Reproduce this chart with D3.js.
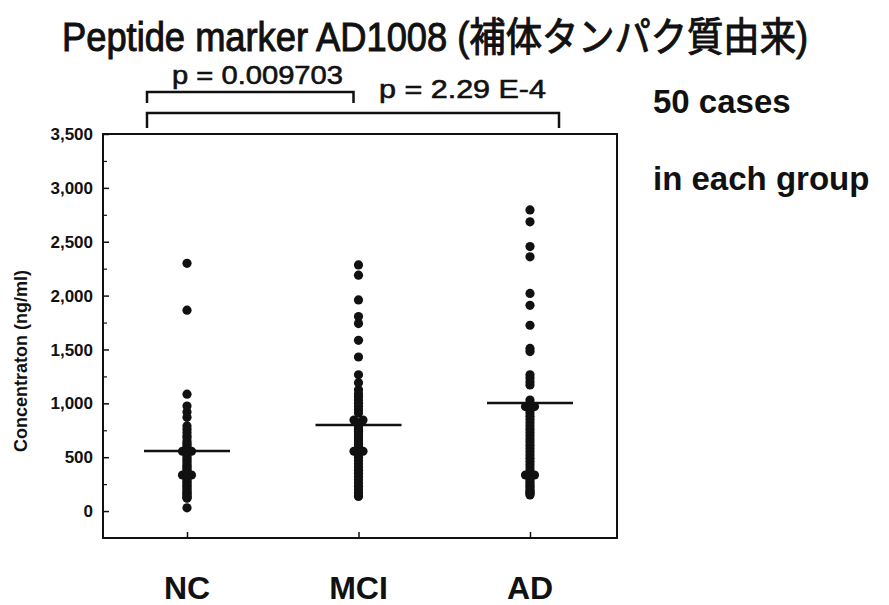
<!DOCTYPE html>
<html>
<head>
<meta charset="utf-8">
<script src="https://cdn.jsdelivr.net/npm/d3@7"></script>
<style>
  body { margin: 0; background: #fff; }
  text { font-family: "Liberation Sans", Arial, "Noto Sans CJK JP", sans-serif; fill: #111; }
</style>
</head>
<body>
<div id="chart"></div>
<script>
/***********************************************/
//                 CHART DATA                  //
/***********************************************/

const groups = ["NC", "MCI", "AD"];

const ncValues = [2300, 1865,
  1085, 975, 920, 870,
  790, 760, 730, 700, 680, 650, 630, 610, 590, 570,
  555, 555, 545, 530, 510, 490, 470, 450, 430, 415, 400, 385,
  370, 350, 335, 335, 330, 320, 305, 290, 275, 260, 245, 230,
  215, 200, 185, 170, 160, 150, 135, 125, 120, 30];

const mciValues = [2285, 2190, 1960, 1805, 1740, 1585, 1430, 1265, 1190,
  1125, 1090, 1060, 1030, 1000, 970, 940, 910,
  845, 845, 820, 800, 780, 760, 740, 720, 700, 680, 660, 640, 620, 600, 580,
  555, 555, 540, 520, 500, 470, 440, 410, 380, 350, 320, 290, 260, 230, 200, 170, 150, 135];

const adValues = [2795, 2685, 2455, 2360, 2020, 1910, 1725, 1510, 1480,
  1265, 1235, 1200, 1170, 1030, 1000,
  970, 970, 940, 910, 880, 850, 820, 790, 760, 730, 700, 670, 640, 610, 580, 550, 520, 490, 460, 430, 400, 370,
  335, 335, 320, 300, 280, 260, 240, 220, 200, 185, 170, 160, 150];

// horizontal bar in each group
const groupMeans = [557, 798, 1002];

const yTicks = [0, 500, 1000, 1500, 2000, 2500, 3000, 3500];
const yMinorTicks = [250, 750, 1250, 1750, 2250, 2750, 3250];

const pLabels = ["p = 0.009703", "p = 2.29 E-4"];

const titleText = "Peptide marker AD1008 (補体タンパク質由来)";
const yLabel = "Concentraton (ng/ml)";
const noteLines = ["50 cases", "in each group"];

/***********************************************/
//                 LAYOUT                      //
/***********************************************/

const width = 889,
    height = 605;

const frame = {left: 103, right: 617, top: 134, bottom: 538};

const svg = d3.select("#chart")
  .append("svg")
    .attr("width", width)
    .attr("height", height);

const x = d3.scalePoint()
    .domain(groups)
    .range([187, 530]);

const y = d3.scaleLinear()
    .domain([-250, 3500])
    .range([frame.bottom, frame.top]);

// frame
svg.append("rect")
    .attr("x", frame.left)
    .attr("y", frame.top)
    .attr("width", frame.right - frame.left)
    .attr("height", frame.bottom - frame.top)
    .attr("fill", "none")
    .attr("stroke", "#111")
    .attr("stroke-width", 2);

// y axis (ticks inside the frame)
const yAxisG = svg.append("g")
    .attr("transform", `translate(${frame.left},0)`)
    .call(d3.axisRight(y).tickValues(yTicks).tickSize(6).tickFormat(""));
yAxisG.select(".domain").remove();
yAxisG.selectAll("line").attr("stroke", "#111").attr("stroke-width", 1.5);

const yMinor = svg.append("g")
    .attr("transform", `translate(${frame.left},0)`)
    .call(d3.axisRight(y).tickValues(yMinorTicks).tickSize(4).tickFormat(""));
yMinor.select(".domain").remove();
yMinor.selectAll("line").attr("stroke", "#111").attr("stroke-width", 1.2);

svg.selectAll(".ylab")
  .data(yTicks)
  .join("text")
    .attr("class", "ylab")
    .attr("x", frame.left - 10)
    .attr("y", d => y(d))
    .attr("dy", "0.36em")
    .attr("text-anchor", "end")
    .style("font-size", "17px")
    .style("font-weight", "bold")
    .text(d => d3.format(",")(d));

// x axis ticks (pointing up)
const xAxisG = svg.append("g")
    .attr("transform", `translate(0,${frame.bottom})`)
    .call(d3.axisTop(x).tickSize(6).tickFormat(""));
xAxisG.select(".domain").remove();
xAxisG.selectAll("line").attr("stroke", "#111").attr("stroke-width", 1.5);

svg.selectAll(".xlab")
  .data(groups)
  .join("text")
    .attr("class", "xlab")
    .attr("x", d => x(d))
    .attr("y", 599)
    .attr("text-anchor", "middle")
    .style("font-size", "32px")
    .style("font-weight", "bold")
    .text(d => d);

// y label
svg.append("text")
    .attr("transform", `translate(27,361) rotate(-90)`)
    .attr("text-anchor", "middle")
    .style("font-size", "18px")
    .style("font-weight", "bold")
    .text(yLabel);

/***********************************************/
//                 DOTS                        //
/***********************************************/

const allValues = [ncValues, mciValues, adValues];

// identical values sit side by side
function dodge(values) {
  const counts = d3.rollup(values, v => v.length, d => d);
  const seen = new Map();
  return values.map(v => {
    const n = counts.get(v);
    const k = seen.get(v) || 0;
    seen.set(v, k + 1);
    return {value: v, off: (k - (n - 1) / 2) * 9};
  });
}

groups.forEach((g, i) => {
  svg.append("g")
    .selectAll("circle")
    .data(dodge(allValues[i]))
    .join("circle")
      .attr("cx", d => x(g) + d.off)
      .attr("cy", d => y(d.value))
      .attr("r", 4.6)
      .attr("fill", "#111");
});

svg.selectAll(".mean")
  .data(groupMeans)
  .join("line")
    .attr("class", "mean")
    .attr("x1", (d, i) => x(groups[i]) - 43)
    .attr("x2", (d, i) => x(groups[i]) + 43)
    .attr("y1", d => y(d))
    .attr("y2", d => y(d))
    .attr("stroke", "#111")
    .attr("stroke-width", 2.5);

/***********************************************/
//                 ANNOTATIONS                 //
/***********************************************/

svg.append("text")
    .attr("x", 62)
    .attr("y", 51)
    .attr("textLength", 746)
    .attr("lengthAdjust", "spacingAndGlyphs")
    .style("font-size", "40px")
    .style("stroke", "#111")
    .style("stroke-width", 1)
    .text(titleText);

// significance brackets
const brackets = [
  {x1: x("NC") - 40, x2: x("MCI") - 5, top: 92, bottom: 103},
  {x1: x("NC") - 40, x2: x("AD") + 29, top: 113, bottom: 128}
];

brackets.forEach(b => {
  svg.append("path")
      .attr("d", `M${b.x1},${b.bottom}V${b.top}H${b.x2}V${b.bottom}`)
      .attr("fill", "none")
      .attr("stroke", "#111")
      .attr("stroke-width", 2.5);
});

svg.append("text")
    .attr("x", 172)
    .attr("y", 84)
    .attr("textLength", 171)
    .attr("lengthAdjust", "spacingAndGlyphs")
    .style("font-size", "26px")
    .style("stroke", "#111")
    .style("stroke-width", 0.6)
    .text(pLabels[0]);

svg.append("text")
    .attr("x", 379)
    .attr("y", 98)
    .attr("textLength", 167)
    .attr("lengthAdjust", "spacingAndGlyphs")
    .style("font-size", "26px")
    .style("stroke", "#111")
    .style("stroke-width", 0.6)
    .text(pLabels[1]);

svg.selectAll(".note")
  .data(noteLines)
  .join("text")
    .attr("class", "note")
    .attr("x", 653)
    .attr("y", (d, i) => 113 + i * 77)
    .style("font-size", "33px")
    .style("font-weight", "bold")
    .text(d => d);
</script>
</body>
</html>
